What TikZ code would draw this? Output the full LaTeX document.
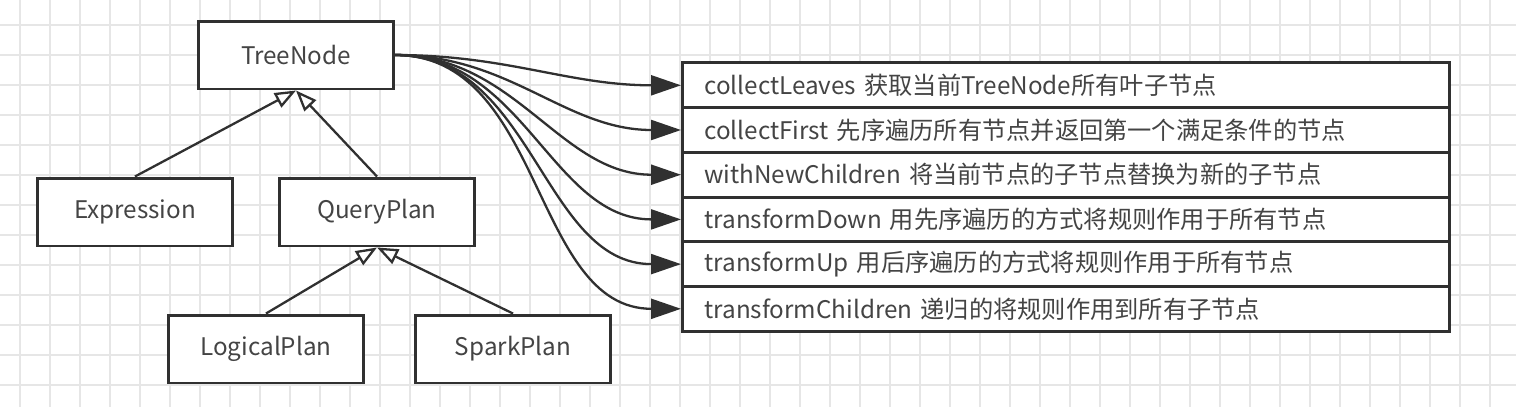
\documentclass[tikz,border=0pt]{standalone}
\usepackage{fontspec}
\setmainfont{Noto Sans CJK SC}
\usepackage{xcolor}
\usepackage{tikz}
\usetikzlibrary{arrows.meta}

\definecolor{boxline}{HTML}{303030}
\definecolor{labeltext}{HTML}{444444}
\definecolor{gridline}{HTML}{E6E6E6}

\begin{document}
\begin{tikzpicture}[x=0.02cm,y=-0.02cm,
    classbox/.style={draw=boxline,line width=1.7pt,fill=white,minimum width=3.9cm,minimum height=1.36cm,inner sep=0pt,text=labeltext,font=\fontsize{13.8}{16}\selectfont},
    rowbox/.style={draw=boxline,line width=1.7pt,fill=white,anchor=west,minimum width=15.34cm,minimum height=0.894cm,text width=14.46cm,inner xsep=0.44cm,inner ysep=0pt,align=left,text=labeltext,font=\fontsize{13.8}{16}\selectfont},
    inherit/.style={draw=boxline,line width=1.3pt,-{Triangle[open,length=0.42cm,width=0.32cm,fill=white]}},
    flow/.style={draw=boxline,line width=1.3pt,-{Triangle[length=0.6cm,width=0.4cm]}}]
    \useasboundingbox (0,0) rectangle (1516,407);
    \fill[white] (0,0) rectangle (1516,407);
    % grid paper
    \foreach \gx in {20,50,...,1510} \draw[gridline,line width=0.7pt] (\gx,0) -- (\gx,407);
    \foreach \gy in {25,55,...,400} \draw[gridline,line width=0.7pt] (0,\gy) -- (1516,\gy);

    \node[classbox] (tn) at (296,55) {TreeNode};
    \node[classbox] (expr) at (135,212) {Expression};
    \node[classbox] (qp) at (377,212) {QueryPlan};
    \node[classbox] (lp) at (266,349) {LogicalPlan};
    \node[classbox] (sp) at (513,349) {SparkPlan};

    \node[rowbox] (r1) at (681,85.3) {collectLeaves 获取当前TreeNode所有叶子节点};
    \node[rowbox] (r2) at (681,130) {collectFirst 先序遍历所有节点并返回第一个满足条件的节点};
    \node[rowbox] (r3) at (681,174.7) {withNewChildren 将当前节点的子节点替换为新的子节点};
    \node[rowbox] (r4) at (681,219.4) {transformDown 用先序遍历的方式将规则作用于所有节点};
    \node[rowbox] (r5) at (681,264.1) {transformUp 用后序遍历的方式将规则作用于所有节点};
    \node[rowbox] (r6) at (681,308.8) {transformChildren 递归的将规则作用到所有子节点};

    \draw[inherit] (expr.north) -- (tn.south);
    \draw[inherit] (qp.north) -- (tn.south);
    \draw[inherit] (lp.north) -- (qp.south);
    \draw[inherit] (sp.north) -- (qp.south);

    \foreach \r in {1,...,6}
      \draw[flow] (tn.east) to[out=0,in=180] (r\r.west);
  \end{tikzpicture}
\end{document}
